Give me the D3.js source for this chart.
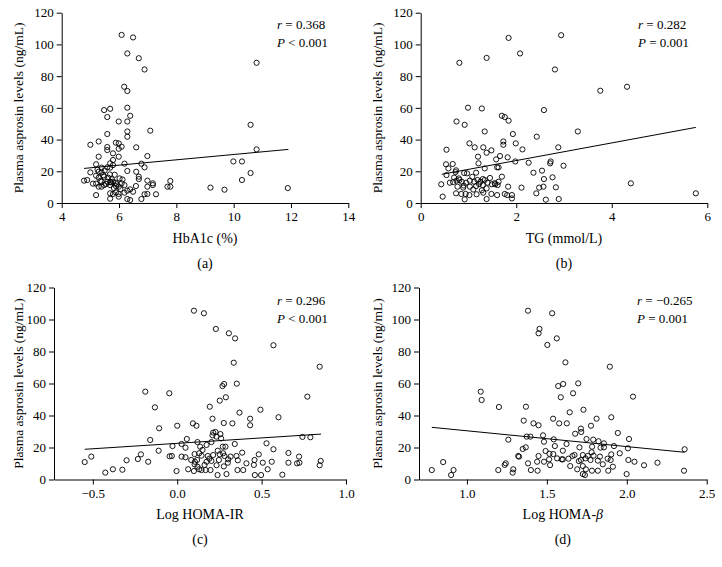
<!DOCTYPE html>
<html><head><meta charset="utf-8">
<script src="https://cdn.jsdelivr.net/npm/d3@7"></script>
</head>
<body style="margin:0;background:#fff"><svg id="c" width="722" height="567"></svg>
<script>
// ---------- data ----------
const yTicks = [0,20,40,60,80,100,120];

const hba1c = [6.09,6.49,6.29,6.69,6.89,10.80,6.18,6.29,5.48,5.69,6.29,5.59,6.39,5.99,6.29,10.59,5.59,6.29,6.29,7.09,5.00,5.29,5.59,5.89,5.99,6.09,6.60,5.59,5.99,5.79,10.80,5.29,5.99,6.99,5.79,5.69,5.79,6.19,6.78,5.20,9.99,10.29,5.39,5.59,5.69,6.89,5.00,5.29,5.39,6.29,6.60,10.59,5.20,5.48,5.29,6.69,6.69,4.78,4.89,5.09,5.20,5.39,5.59,5.69,5.79,5.89,6.09,6.99,7.18,7.18,7.79,10.29,5.48,5.69,5.89,6.19,5.29,5.39,5.99,6.99,7.69,7.79,6.59,9.19,9.68,11.89,6.39,6.29,6.19,5.89,5.69,5.79,5.99,5.20,6.99,6.89,7.29,6.49,5.69,5.99,6.29,6.39,6.78,5.45,5.62,5.75,5.85,6.02,5.35,5.55,5.72,5.92,6.12,5.5,5.68,5.82,6.05,5.25];
const asprosinA = [106.0,104.4,94.3,91.3,84.2,88.4,73.3,70.6,58.6,59.4,60.1,54.2,55.0,51.4,51.4,49.3,43.5,45.1,41.8,45.6,36.7,38.8,35.3,38.0,37.6,35.5,35.1,33.4,34.2,31.3,33.8,29.2,29.2,29.6,27.1,25.0,23.9,24.8,24.8,24.4,26.2,26.2,22.3,22.5,22.3,22.5,19.3,19.7,19.3,20.2,19.7,18.9,17.2,16.6,16.0,16.6,15.1,14.1,14.5,12.2,12.2,13.4,13.4,13.2,13.4,12.8,12.4,14.1,12.4,11.3,13.9,14.5,11.3,11.3,10.7,11.3,10.3,10.3,10.3,10.3,10.3,10.3,10.7,9.7,8.4,9.4,8.6,7.8,6.5,6.7,6.1,5.7,5.7,5.0,5.7,5.5,5.5,7.1,2.7,4.0,2.5,1.9,2.5,17.5,16.0,15.0,17.8,15.5,14.0,12.0,13.0,11.8,14.8,20.5,18.0,9.5,8.8,21.0];

const tg = [2.94,1.84,2.08,0.81,1.38,2.81,3.76,4.32,0.99,1.28,2.58,1.70,1.76,1.84,0.75,0.92,1.34,3.29,1.93,2.43,1.73,1.73,1.02,1.99,1.13,1.31,2.88,0.54,1.48,1.38,2.13,1.20,1.66,1.82,1.58,1.98,2.26,2.72,2.71,0.53,0.67,1.21,2.99,0.58,0.74,0.91,1.34,1.60,1.63,2.54,0.54,0.73,0.97,1.16,2.36,1.70,2.76,2.58,0.43,0.61,0.68,0.75,0.81,0.86,0.95,1.03,1.12,1.19,1.25,1.30,1.34,1.40,1.49,1.56,1.63,0.77,0.89,1.03,1.16,1.30,1.38,1.61,1.83,2.11,2.48,2.57,2.83,4.40,0.46,0.74,0.85,0.94,1.02,1.17,1.31,1.48,1.60,1.76,1.81,1.91,2.42,0.92,1.38,1.91,2.62,2.89,5.76,0.70,0.80,1.08,1.22,1.45,1.55,0.90,1.10,1.28];
const asprosinB = [105.8,104.1,94.3,88.4,91.5,84.2,70.8,73.3,60.1,59.6,58.6,55.0,54.2,51.9,51.4,49.3,45.1,45.1,43.5,41.8,38.8,36.7,37.6,37.6,35.1,35.1,35.1,33.6,33.2,31.7,33.8,29.2,29.6,28.8,27.5,26.2,25.4,26.2,25.0,24.4,24.6,25.0,23.5,21.8,20.6,18.9,21.8,22.5,22.5,20.4,17.6,19.5,18.7,19.1,19.1,16.6,16.2,15.1,11.8,12.8,13.2,14.1,14.5,13.4,12.8,14.1,13.4,14.5,13.4,15.1,14.5,12.8,11.8,11.8,13.4,10.3,9.7,10.3,10.7,11.3,9.2,11.3,10.3,9.7,9.7,10.3,9.9,12.4,4.0,6.1,5.7,5.7,5.0,5.5,6.5,5.7,5.0,5.7,5.0,5.0,6.1,2.3,2.5,2.9,2.1,2.5,6.1,16.0,15.5,16.5,12.0,15.8,12.5,11.0,8.5,8.0];

const logHomaIR = [0.099,0.158,0.229,0.306,0.343,0.570,0.335,0.844,0.278,0.268,0.353,-0.189,-0.047,0.288,0.252,0.771,-0.132,0.193,0.493,0.369,0.432,0.432,0.600,0.209,0.093,0.114,0.000,-0.107,0.276,0.327,0.213,0.227,0.233,0.256,0.209,-0.160,0.057,0.260,0.742,0.789,0.120,0.026,-0.028,0.049,0.136,0.174,0.270,0.286,0.341,0.203,0.529,0.570,-0.110,-0.045,-0.032,0.026,0.049,0.103,0.130,0.144,0.181,0.213,0.252,0.272,0.280,0.316,0.351,0.385,0.483,0.659,0.722,-0.215,-0.233,-0.300,-0.509,-0.548,-0.172,0.083,0.105,0.118,0.174,0.203,0.247,0.302,0.359,0.410,0.458,0.507,0.560,0.659,0.710,0.724,0.850,0.844,0.103,0.162,0.233,0.276,0.454,0.536,-0.325,-0.381,-0.426,-0.004,0.065,0.099,0.130,0.144,0.168,0.197,0.239,0.292,0.357,0.391,0.460,0.497,0.623,0.150,0.190,0.240,0.120,0.300];
const asprosinC = [105.5,103.9,94.1,91.4,88.2,83.9,73.0,70.5,59.7,58.4,59.9,54.9,53.9,51.4,49.3,51.8,45.1,45.5,43.6,41.8,38.0,33.9,38.9,38.0,35.1,33.6,33.6,32.0,35.3,35.1,29.3,29.7,26.8,28.4,27.6,24.7,25.3,25.7,26.6,26.4,23.4,22.2,20.9,19.9,20.5,21.6,20.5,20.5,22.2,23.4,22.6,18.9,18.0,14.5,14.7,14.3,13.9,15.9,16.4,14.9,14.7,15.3,15.7,16.4,14.7,14.3,14.7,16.8,15.7,16.6,14.3,15.7,12.8,12.0,14.3,10.9,11.1,12.2,11.1,12.2,11.1,11.6,12.2,12.6,12.0,10.1,12.2,10.5,11.1,10.5,10.1,10.5,11.6,8.9,9.5,9.1,8.9,8.2,9.1,6.4,6.1,6.4,4.3,5.3,6.4,5.3,6.4,5.9,5.9,5.9,2.8,3.4,5.9,5.9,2.8,2.8,3.0,18.5,13.0,18.0,8.0,10.5];

const logHomaB = [1.382,1.533,1.454,1.448,1.562,1.503,1.616,1.894,1.086,1.092,1.571,1.602,1.696,1.587,1.664,2.039,1.200,1.369,1.643,1.729,1.539,1.811,1.903,1.355,1.416,1.448,1.577,1.625,1.776,1.713,1.715,1.677,1.944,1.374,1.397,1.476,1.543,1.748,1.790,1.823,1.857,2.014,1.259,1.482,1.623,1.550,1.704,1.783,1.857,1.920,2.007,2.362,1.368,1.349,1.492,1.836,1.540,1.321,1.326,1.448,1.516,1.660,1.673,1.725,1.756,1.792,1.832,1.903,1.956,1.880,1.899,1.514,1.564,1.593,1.600,1.635,1.713,1.742,1.773,1.819,2.010,2.048,2.108,2.192,1.439,1.482,1.382,1.243,1.236,0.851,0.780,0.916,0.901,1.196,1.290,1.286,1.400,1.442,1.646,1.690,1.725,1.744,1.782,1.819,1.884,1.913,1.725,1.738,1.999,2.358,1.600,1.780,1.700,1.850,1.520];
const asprosinD = [105.5,103.9,94.1,91.4,88.2,84.1,73.2,70.5,54.9,49.7,58.4,59.7,60.1,51.4,53.9,51.8,45.3,45.5,42.0,43.6,38.0,38.0,38.9,36.8,35.1,33.9,35.1,35.1,33.6,31.8,29.7,28.6,29.1,26.8,26.8,27.6,25.1,25.3,24.9,23.9,22.6,25.3,24.9,23.6,22.2,20.9,20.1,20.5,20.1,20.9,19.5,18.9,20.1,19.1,17.8,19.9,15.9,14.7,14.3,14.7,16.1,14.7,15.3,15.3,14.7,14.9,14.3,15.7,16.4,13.0,12.2,12.6,13.2,12.6,12.6,13.0,12.2,13.2,12.2,11.8,12.2,11.1,8.9,10.5,11.1,11.1,10.1,10.1,9.1,10.9,5.9,5.9,2.8,5.9,6.4,4.3,5.9,5.5,8.4,6.4,8.4,6.4,5.5,5.5,5.5,8.0,3.4,2.8,3.4,5.5,18.0,17.0,11.5,9.5,9.0];

// regression lines: [intercept, slope], x range
const fitA = [13.76, 1.683], fitRangeA = [4.78, 11.91];
const fitB = [15.65, 5.56],  fitRangeB = [0.44, 5.76];
const fitC = [22.6, 6.79],   fitRangeC = [-0.548, 0.852];
const fitD = [40.3, -9.86],  fitRangeD = [0.78, 2.362];

const xTicksA = [4,6,8,10,12,14];
const xTicksB = [0,2,4,6];
const xTicksC = [-0.5,0.0,0.5,1.0];
const xTicksD = [1.0,1.5,2.0,2.5];

const xLabels = ["HbA1c (%)","TG (mmol/L)","Log HOMA-IR","Log HOMA-"];
const panelTags = ["(a)","(b)","(c)","(d)"];
const rTexts = ["0.368","0.282","0.296","\u22120.265"];
const pTexts = ["< 0.001","= 0.001","< 0.001","= 0.001"];
const yLabel = "Plasma asprosin levels (ng/mL)";

// ---------- drawing ----------
const FONT = '"Liberation Serif"';
const svg = d3.select("#c");
function ft(sel, size){ return sel.style("font-family",FONT).attr("font-family","Liberation Serif").style("font-size",size+"px").attr("fill","#000"); }

const panels = [
  {xs:hba1c, ys:asprosinA, fit:fitA, fr:fitRangeA, ticks:xTicksA, dom:[4,14], fmt:d3.format("d"),
   L:61.7, R:348.3, T:12.7, B:203, stat:[277,24], ylx:18},
  {xs:tg, ys:asprosinB, fit:fitB, fr:fitRangeB, ticks:xTicksB, dom:[0,6], fmt:d3.format("d"),
   L:420.7, R:707.3, T:12.7, B:203, stat:[638,24], ylx:377},
  {xs:logHomaIR, ys:asprosinC, fit:fitC, fr:fitRangeC, ticks:xTicksC, dom:[-0.73,1.0], fmt:v=>d3.format(".1f")(v).replace("-","\u2212"),
   L:54, R:346, T:287.5, B:479.5, stat:[277,300], ylx:18},
  {xs:logHomaB, ys:asprosinD, fit:fitD, fr:fitRangeD, ticks:xTicksD, dom:[0.7,2.5], fmt:d3.format(".1f"),
   L:419, R:706.7, T:287.5, B:479.5, stat:[637,300], ylx:377}
];

panels.forEach((p,i)=>{
  const x = d3.scaleLinear().domain(p.dom).range([p.L,p.R]);
  const y = d3.scaleLinear().domain([0,120]).range([p.B,p.T]);
  const g = svg.append("g");

  const ya = g.append("g").attr("transform",`translate(${p.L},0)`)
    .call(d3.axisLeft(y).tickValues(yTicks).tickSize(5).tickSizeOuter(0).tickPadding(3));
  const xa = g.append("g").attr("transform",`translate(0,${p.B})`)
    .call(d3.axisBottom(x).tickValues(p.ticks).tickFormat(p.fmt).tickSize(5).tickSizeOuter(0).tickPadding(4));
  [ya,xa].forEach(a=>{
    a.attr("font-family","Liberation Serif");
    a.selectAll("path,line").attr("stroke","#000").attr("stroke-width",1);
    ft(a.selectAll("text"),13);
  });

  g.append("line")
    .attr("x1",x(p.fr[0])).attr("y1",y(p.fit[0]+p.fit[1]*p.fr[0]))
    .attr("x2",x(p.fr[1])).attr("y2",y(p.fit[0]+p.fit[1]*p.fr[1]))
    .attr("stroke","#000").attr("stroke-width",1);

  g.selectAll("circle.pt").data(p.xs.map((v,k)=>[v,p.ys[k]])).enter().append("circle")
    .attr("cx",d=>x(d[0])).attr("cy",d=>y(d[1])).attr("r",2.6)
    .attr("fill","none").attr("stroke","#000").attr("stroke-width",0.9);

  const st = ft(g.append("text").attr("x",p.stat[0]).attr("y",p.stat[1]+4.5),13);
  st.append("tspan").style("font-style","italic").text("r");
  st.append("tspan").text(" = "+rTexts[i]);
  const sp = ft(g.append("text").attr("x",p.stat[0]).attr("y",p.stat[1]+22.5),13);
  sp.append("tspan").style("font-style","italic").text("P");
  sp.append("tspan").text(" "+pTexts[i]);

  const cy = (p.T+p.B)/2;
  ft(g.append("text").attr("transform",`translate(${p.ylx+4.5},${cy}) rotate(-90)`)
    .attr("text-anchor","middle"),13.5).text(yLabel);

  const cx = (p.L+p.R)/2;
  const xl = ft(g.append("text").attr("x",cx).attr("y",p.B+39.5).attr("text-anchor","middle"),14);
  xl.append("tspan").text(xLabels[i]);
  if(i===3) xl.append("tspan").style("font-style","italic").text("\u03B2");

  ft(g.append("text").attr("x",cx).attr("y",p.B+64.5).attr("text-anchor","middle"),14).text(panelTags[i]);
});
</script>
</body></html>
